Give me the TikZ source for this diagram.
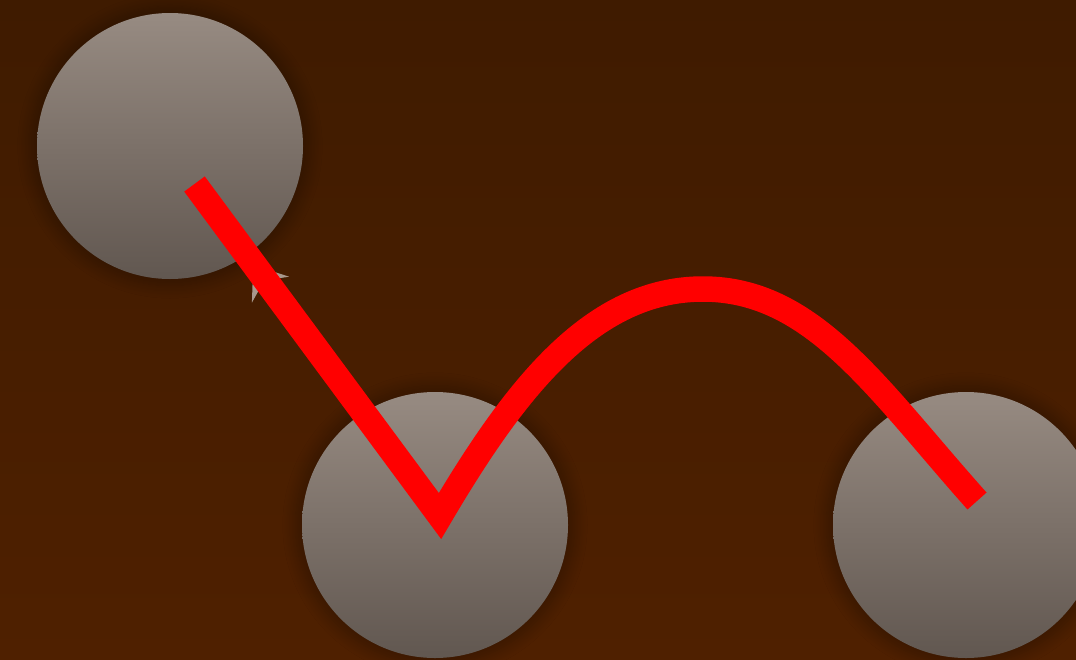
\documentclass[tikz,border=0pt]{standalone}
\usetikzlibrary{arrows.meta,shadows.blur}
\definecolor{bgtop}{RGB}{63,27,0}
\definecolor{bgbot}{RGB}{79,32,0}
\definecolor{balltop}{RGB}{151,139,130}
\definecolor{ballbot}{RGB}{97,87,80}
\definecolor{tipgrey}{RGB}{168,152,140}
\tikzset{
  ball/.style={circle, minimum size=266pt, inner sep=0pt, top color=balltop, bottom color=ballbot,
    blur shadow={shadow xshift=0pt, shadow yshift=0pt, shadow blur radius=12pt, shadow opacity=28, shadow scale=1.05, shadow blur steps=12}},
  greyarrow/.style={draw=tipgrey, fill=tipgrey, line width=3pt, shorten >=12pt,
    -{Stealth[length=30pt,width=45pt,inset=11pt]}},
  redline/.style={draw=red, line width=25.5pt, line cap=butt, line join=miter}
}
\begin{document}
\begin{tikzpicture}[x=1pt,y=-1pt]
\useasboundingbox (0,0) rectangle (1076,659);
\fill[top color=bgtop, bottom color=bgbot] (0,0) rectangle (1076,659);
\node[ball] (c1) at (170,146) {};
\node[ball] (c2) at (435,525) {};
\node[ball] (c3) at (966,525) {};
\draw[greyarrow] (c2) -- (c1);
\coordinate (s) at (194.5,184);
\coordinate (v) at (440,516);
\coordinate (p) at (703,289);
\coordinate (e) at (977,501);
\draw[redline] (s) -- (v) .. controls (516,387) and (593,289) .. (p)
  .. controls (813,289) and (877,389) .. (e);
\end{tikzpicture}
\end{document}
